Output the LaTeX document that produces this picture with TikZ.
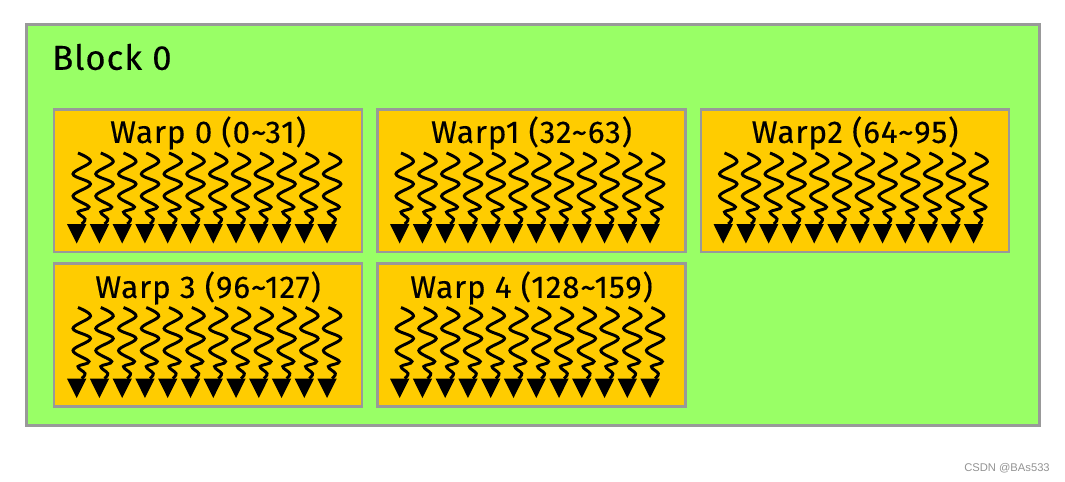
\documentclass[tikz,border=0pt]{standalone}
\usepackage{fontspec}
\setmainfont{Fira Sans}[FakeBold=0.3,LetterSpace=3]
\newfontfamily\markfont{Liberation Sans}
\definecolor{blockgreen}{HTML}{99FF66}
\definecolor{warporange}{HTML}{FFCC00}
\definecolor{edgegray}{HTML}{999999}
\begin{document}
\begin{tikzpicture}[
		x=0.75pt, y=-0.75pt,
		blockbox/.style={rectangle, draw=edgegray, line width=2pt, fill=blockgreen, minimum width=760pt, minimum height=301pt, inner sep=0pt},
		warpbox/.style={rectangle, draw=edgegray, line width=2pt, fill=warporange, minimum width=231pt, minimum height=107pt, inner sep=0pt},
		warplabel/.style={font=\fontsize{23.5}{25}\selectfont, inner sep=0pt},
		threads/.pic={
			\foreach \i in {0,...,11} {
				\draw[line width=2.2pt, shift={(\i*22.76,0)}] plot[smooth, tension=0.6] coordinates {(24,44) (36.5,52.7) (19,65) (36.5,75) (19,87) (35,98) (24,103) (31,110) (27.7,115)};
				\fill[shift={(\i*22.76,0)}] (13,115) -- (32.4,115) -- (22.7,134.5) -- cycle;
			}
		},
	]
	\useasboundingbox (0,0) rectangle (1065,482);

	% Block
	\node[blockbox] (block) at (533,225) {};
	\node[font=\fontsize{26}{30}\selectfont, inner sep=0pt, anchor=west] (blocklabel) at (52,57) {Block 0};

	% Warps
	\node[warpbox] (warp0) at (208,180.5) {};
	\node[warpbox] (warp1) at (531.5,180.5) {};
	\node[warpbox] (warp2) at (855,180.5) {};
	\node[warpbox] (warp3) at (208,335) {};
	\node[warpbox] (warp4) at (531.5,335) {};

	\node[warplabel] (label0) at (208,133) {Warp 0 (0\textasciitilde31)};
	\node[warplabel] (label1) at (531.5,133) {Warp1 (32\textasciitilde63)};
	\node[warplabel] (label2) at (855,133) {Warp2 (64\textasciitilde95)};
	\node[warplabel] (label3) at (208,288) {Warp 3 (96\textasciitilde127)};
	\node[warplabel] (label4) at (531.5,288) {Warp 4 (128\textasciitilde159)};

	% Threads
	\pic at (54,109) {threads};
	\pic at (377,109) {threads};
	\pic at (700.5,109) {threads};
	\pic at (54,263.5) {threads};
	\pic at (377,263.5) {threads};

	% Watermark
	\node[font=\markfont\fontsize{8.4}{10}\selectfont, text=gray!85, inner sep=0pt, anchor=east] (mark) at (1050,468) {CSDN @BAs533};

\end{tikzpicture}
\end{document}
